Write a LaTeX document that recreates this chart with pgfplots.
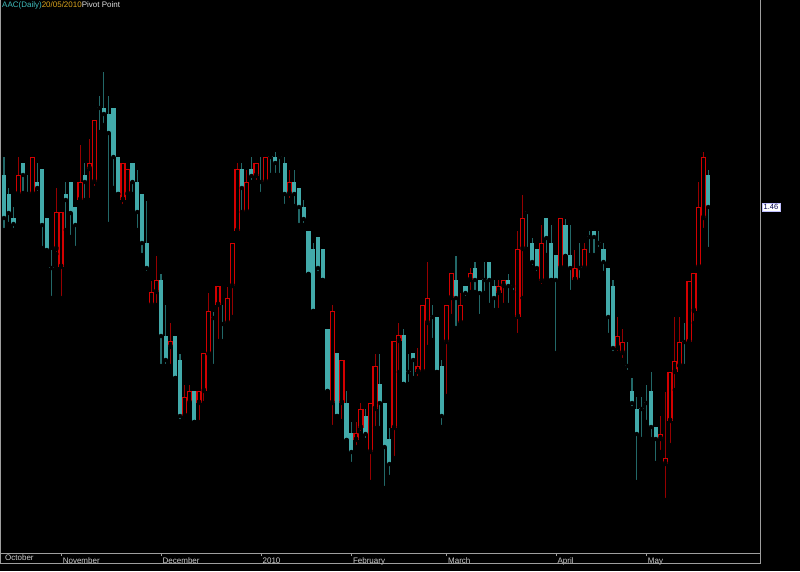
\documentclass[border=0pt]{standalone}
\usepackage{pgfplots}
\pgfplotsset{compat=1.18}
\usepackage{pgfplotstable}
\usepackage{fontspec}
\setmainfont{Liberation Sans}
\definecolor{tealbody}{RGB}{66,170,170}
\definecolor{tealwick}{RGB}{34,104,104}
\definecolor{redbody}{RGB}{210,0,0}
\definecolor{redwick}{RGB}{150,0,0}
\definecolor{titleteal}{RGB}{64,190,190}
\definecolor{titlegold}{RGB}{220,165,30}

% down (teal, filled) candles: index, open, high, low, close
\pgfplotstableread{
k o h l c
0 1.492 1.510 1.437 1.449
1 1.473 1.479 1.443 1.454
2 1.449 1.460 1.437 1.443
4 1.504 1.504 1.474 1.492
5 1.474 1.492 1.473 1.473
7 1.485 1.504 1.474 1.479
8 1.498 1.498 1.419 1.442
9 1.449 1.449 1.413 1.417
10 1.400 1.417 1.369 1.399
13 1.473 1.485 1.437 1.467
14 1.485 1.485 1.430 1.454
15 1.460 1.460 1.419 1.442
17 1.492 1.504 1.467 1.485
20 1.560 1.571 1.535 1.559
21 1.559 1.595 1.542 1.553
22 1.553 1.571 1.443 1.534
23 1.559 1.559 1.479 1.510
24 1.510 1.510 1.473 1.473
27 1.504 1.504 1.473 1.485
28 1.485 1.497 1.437 1.455
29 1.473 1.473 1.412 1.424
30 1.424 1.466 1.394 1.399
33 1.387 1.393 1.301 1.331
34 1.331 1.362 1.301 1.307
36 1.331 1.331 1.289 1.289
37 1.307 1.313 1.246 1.251
40 1.276 1.276 1.245 1.245
44 1.350 1.355 1.301 1.349
46 1.344 1.362 1.326 1.343
50 1.498 1.504 1.455 1.479
52 1.498 1.510 1.485 1.491
54 1.486 1.510 1.473 1.485
56 1.511 1.511 1.492 1.510
57 1.510 1.515 1.492 1.504
58 1.511 1.511 1.492 1.510
59 1.504 1.510 1.461 1.473
61 1.485 1.497 1.461 1.473
62 1.479 1.479 1.442 1.460
63 1.460 1.467 1.442 1.448
64 1.436 1.436 1.393 1.393
65 1.418 1.424 1.356 1.356
66 1.430 1.430 1.394 1.399
67 1.418 1.418 1.387 1.387
68 1.338 1.338 1.276 1.276
70 1.314 1.314 1.251 1.251
72 1.264 1.276 1.227 1.227
73 1.234 1.245 1.203 1.215
76 1.251 1.258 1.227 1.233
79 1.283 1.313 1.239 1.264
80 1.264 1.264 1.179 1.220
81 1.228 1.239 1.190 1.203
84 1.332 1.338 1.283 1.283
85 1.296 1.313 1.283 1.295
86 1.314 1.314 1.289 1.307
90 1.351 1.362 1.327 1.350
91 1.350 1.350 1.295 1.295
92 1.301 1.307 1.240 1.251
95 1.387 1.411 1.339 1.369
97 1.381 1.381 1.369 1.374
99 1.399 1.405 1.375 1.387
100 1.387 1.387 1.351 1.374
101 1.388 1.405 1.374 1.387
102 1.405 1.405 1.362 1.387
103 1.381 1.387 1.357 1.369
106 1.387 1.393 1.362 1.381
107 1.382 1.382 1.375 1.381
110 1.456 1.456 1.418 1.455
111 1.424 1.429 1.400 1.405
112 1.418 1.418 1.394 1.399
114 1.449 1.449 1.412 1.429
115 1.424 1.442 1.387 1.387
116 1.412 1.412 1.314 1.387
118 1.442 1.448 1.411 1.411
119 1.412 1.442 1.375 1.399
121 1.400 1.424 1.387 1.399
123 1.431 1.436 1.412 1.430
124 1.436 1.436 1.412 1.430
125 1.425 1.436 1.418 1.424
126 1.418 1.424 1.394 1.405
127 1.399 1.399 1.332 1.350
128 1.381 1.387 1.314 1.319
131 1.302 1.325 1.295 1.301
132 1.276 1.289 1.259 1.264
133 1.258 1.270 1.185 1.233
134 1.259 1.270 1.228 1.258
135 1.265 1.282 1.245 1.264
136 1.276 1.295 1.228 1.240
137 1.240 1.240 1.204 1.228
143 1.326 1.344 1.301 1.325
148 1.492 1.497 1.418 1.460
}\down

% up (red, hollow) candles: index, open, high, low, close
\pgfplotstableread{
k o h l c
3 1.473 1.510 1.473 1.492
6 1.473 1.510 1.473 1.510
11 1.418 1.479 1.413 1.455
12 1.400 1.455 1.369 1.455
16 1.467 1.522 1.467 1.485
18 1.498 1.528 1.467 1.504
19 1.485 1.547 1.479 1.547
25 1.467 1.504 1.461 1.504
26 1.473 1.498 1.473 1.498
31 1.362 1.386 1.362 1.375
32 1.375 1.411 1.362 1.387
35 1.320 1.344 1.301 1.326
38 1.251 1.282 1.251 1.270
39 1.264 1.282 1.264 1.276
41 1.264 1.276 1.245 1.276
42 1.276 1.314 1.264 1.314
43 1.313 1.374 1.313 1.356
45 1.362 1.381 1.326 1.381
47 1.344 1.380 1.344 1.369
48 1.381 1.424 1.350 1.424
49 1.436 1.504 1.436 1.498
51 1.455 1.497 1.455 1.485
53 1.491 1.504 1.485 1.504
55 1.485 1.510 1.485 1.510
60 1.473 1.497 1.467 1.485
69 1.264 1.362 1.240 1.356
71 1.264 1.307 1.246 1.307
74 1.227 1.245 1.220 1.234
75 1.239 1.264 1.234 1.258
77 1.215 1.264 1.185 1.264
78 1.258 1.313 1.239 1.301
82 1.239 1.326 1.209 1.326
83 1.326 1.344 1.295 1.332
87 1.295 1.319 1.289 1.301
88 1.295 1.362 1.295 1.362
89 1.344 1.405 1.320 1.369
93 1.325 1.362 1.271 1.362
94 1.369 1.394 1.351 1.394
96 1.344 1.374 1.344 1.362
98 1.387 1.399 1.375 1.394
104 1.374 1.387 1.357 1.381
105 1.381 1.387 1.362 1.387
108 1.350 1.436 1.332 1.418
109 1.418 1.472 1.369 1.449
113 1.386 1.442 1.381 1.424
117 1.399 1.449 1.399 1.449
120 1.387 1.417 1.387 1.399
122 1.399 1.424 1.399 1.418
129 1.319 1.350 1.314 1.331
130 1.314 1.338 1.307 1.325
138 1.228 1.251 1.215 1.233
139 1.203 1.275 1.167 1.209
140 1.246 1.295 1.222 1.295
141 1.295 1.350 1.277 1.306
142 1.301 1.350 1.301 1.325
144 1.325 1.386 1.325 1.386
145 1.356 1.394 1.344 1.394
146 1.400 1.485 1.400 1.460
147 1.449 1.515 1.437 1.510
}\up

% one upward segment per candle (no seam in the middle)
\pgfplotsset{
  candle/.style 2 args={only marks, mark=none, forget plot,
    error bars/.cd, y dir=plus, y explicit, error mark=none,
    error bar style={line width=#1, draw=#2, line cap=butt}},
}

\begin{document}
\begin{tikzpicture}
\fill[black] (0pt,-18pt) rectangle (800pt,553pt);
\begin{axis}[
  at={(0pt,0pt)}, anchor=south west,
  scale only axis, width=760pt, height=553pt,
  xmin=-0.84, xmax=158.9, ymin=1.114, ymax=1.667,
  axis line style={draw=white!62!black, line width=1pt},
  xtick={12,33,54,73,93,116,135},
  xticklabels={November,December,2010,February,March,April,May},
  extra x ticks={-0.84},
  extra x tick labels={October},
  extra x tick style={major tick length=0pt, xticklabel style={xshift=3.5pt}},
  tick align=outside,
  major tick length=3pt,
  xtick style={draw=white!62!black, line width=0.8pt},
  xticklabel style={font=\fontsize{8}{9}\selectfont, text=white!80!black,
     anchor=north west, inner sep=0pt, xshift=1.5pt, yshift=-1.8pt},
  ytick={1.46}, yticklabels={1.46},
  yticklabel pos=right,
  ytick style={draw=none},
  yticklabel style={font=\fontsize{7.5}{8}\selectfont, fill=white, draw=blue!25,
     text=black!70!blue, inner sep=1.5pt, anchor=west, xshift=-1pt},
  /pgf/number format/assume math mode=true,
]
% wicks
\addplot[candle={1.1pt}{tealwick}] table[x=k, y=l, y error expr={\thisrow{h}-\thisrow{l}}] {\down};
\addplot[candle={1.1pt}{redwick}] table[x=k, y=l, y error expr={\thisrow{h}-\thisrow{l}}] {\up};
% teal filled bodies (close below open)
\addplot[candle={4.2pt}{tealbody}] table[x=k, y=c, y error expr={\thisrow{o}-\thisrow{c}}] {\down};
% red hollow bodies (open below close)
\addplot[candle={5.4pt}{redbody}] table[x=k, y=o, y error expr={\thisrow{c}-\thisrow{o}}] {\up};
\addplot[candle={2.8pt}{black}] table[x=k, y expr={\thisrow{o}+0.0013}, y error expr={\thisrow{c}-\thisrow{o}-0.0026}] {\up};
\node[anchor=north west, inner sep=0pt, font=\fontsize{8}{9}\selectfont] at (rel axis cs:0,1) [xshift=2pt, yshift=-2pt]
  {\textcolor{titleteal}{AAC(Daily)}\textcolor{titlegold}{20/05/2010}\textcolor{white!88!black}{Pivot Point}};
\end{axis}
\draw[white!62!black, line width=0.8pt] (0pt,0pt) rectangle (760pt,-10pt);
\pgfresetboundingbox
\path[use as bounding box] (0pt,-18pt) rectangle (800pt,553pt);
\end{tikzpicture}
\end{document}
